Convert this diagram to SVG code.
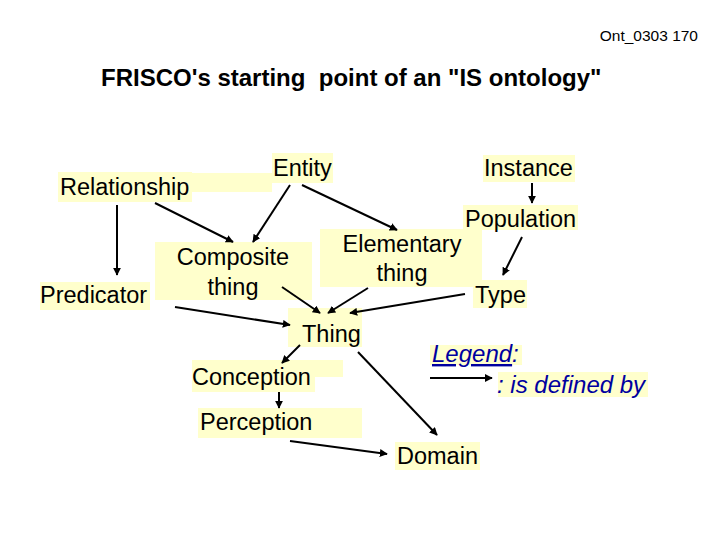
<svg xmlns="http://www.w3.org/2000/svg" width="720" height="540" viewBox="0 0 720 540">
<style>
.bg{fill:#FFFFCC}
.lbl{font-family:"Liberation Sans",Arial,sans-serif;font-size:23.5px;fill:#000}
.c{stroke:#000;stroke-width:2;fill:none;marker-end:url(#ah)}
.lg{font-family:"Liberation Sans",Arial,sans-serif;font-size:24px;font-style:italic;fill:#0000A0}
</style>
<defs>
<marker id="ah" viewBox="0 0 10 10" refX="9" refY="5" markerWidth="4" markerHeight="4" orient="auto" markerUnits="strokeWidth">
<path d="M0,0 L10,5 L0,10 z" fill="#000"/>
</marker>
</defs>
<rect width="720" height="540" fill="#fff"/>
<text x="698" y="41" text-anchor="end" font-family="Liberation Sans,Arial,sans-serif" font-size="15.5">Ont_0303 170</text>
<text x="101" y="86" xml:space="preserve" font-family="Liberation Sans,Arial,sans-serif" font-size="24" font-weight="bold">FRISCO's starting  point of an "IS ontology"</text>

<g id="relationship"><rect class="bg" x="58" y="172" width="134" height="30"/><rect class="bg" x="192" y="173" width="80" height="19"/><text class="lbl" x="60" y="195">Relationship</text></g>
<g id="entity"><rect class="bg" x="272" y="153" width="61" height="30"/><text class="lbl" x="273" y="176">Entity</text></g>
<g id="instance"><rect class="bg" x="483" y="155" width="92" height="27"/><text class="lbl" x="484" y="176">Instance</text></g>
<g id="population"><rect class="bg" x="463" y="205" width="115" height="25"/><text class="lbl" x="465" y="227">Population</text></g>
<g id="composite"><rect class="bg" x="155" y="242" width="157" height="58"/><text class="lbl" x="233" y="265" text-anchor="middle">Composite</text><text class="lbl" x="233" y="295" text-anchor="middle">thing</text></g>
<g id="elementary"><rect class="bg" x="320" y="229" width="162" height="58"/><text class="lbl" x="402" y="252" text-anchor="middle">Elementary</text><text class="lbl" x="402" y="281" text-anchor="middle">thing</text></g>
<g id="predicator"><rect class="bg" x="40" y="282" width="110" height="28"/><text class="lbl" x="40" y="303">Predicator</text></g>
<g id="type"><rect class="bg" x="473" y="280" width="54" height="28"/><text class="lbl" x="475" y="303">Type</text></g>
<g id="thing"><rect class="bg" x="288" y="308" width="74" height="39"/><text class="lbl" x="302" y="342">Thing</text></g>
<g id="conception"><rect class="bg" x="192" y="360" width="151" height="17"/><rect class="bg" x="192" y="360" width="123" height="32"/><text class="lbl" x="192" y="385">Conception</text></g>
<g id="perception"><rect class="bg" x="198" y="408" width="164" height="30"/><text class="lbl" x="200" y="430">Perception</text></g>
<g id="domain"><rect class="bg" x="395" y="442" width="85" height="28"/><text class="lbl" x="397" y="464">Domain</text></g>
<g id="legend"><rect class="bg" x="430" y="345" width="92" height="20"/><rect class="bg" x="498" y="372" width="150" height="25"/>
<text class="lg" x="432" y="362"><tspan text-decoration="underline">Legend</tspan>:</text>
<text class="lg" x="497" y="393">: is defined by</text>
<line class="c" x1="430" y1="378" x2="492" y2="378"/></g>

<g id="connectors">
<line class="c" x1="117" y1="205" x2="117" y2="275"/>
<line class="c" x1="155" y1="203" x2="233" y2="242"/>
<line class="c" x1="290" y1="185" x2="253" y2="242"/>
<line class="c" x1="302" y1="185" x2="397" y2="230"/>
<line class="c" x1="282" y1="287" x2="320" y2="313"/>
<line class="c" x1="175" y1="307" x2="290" y2="325"/>
<line class="c" x1="368" y1="288" x2="328" y2="313"/>
<line class="c" x1="465" y1="294" x2="350" y2="313"/>
<line class="c" x1="532" y1="183" x2="532" y2="203"/>
<line class="c" x1="522" y1="237" x2="503" y2="275"/>
<line class="c" x1="300" y1="345" x2="282" y2="363"/>
<line class="c" x1="279" y1="392" x2="279" y2="408"/>
<line class="c" x1="358" y1="352" x2="437" y2="435"/>
<line class="c" x1="290" y1="441" x2="387" y2="454"/>
</g>
</svg>
